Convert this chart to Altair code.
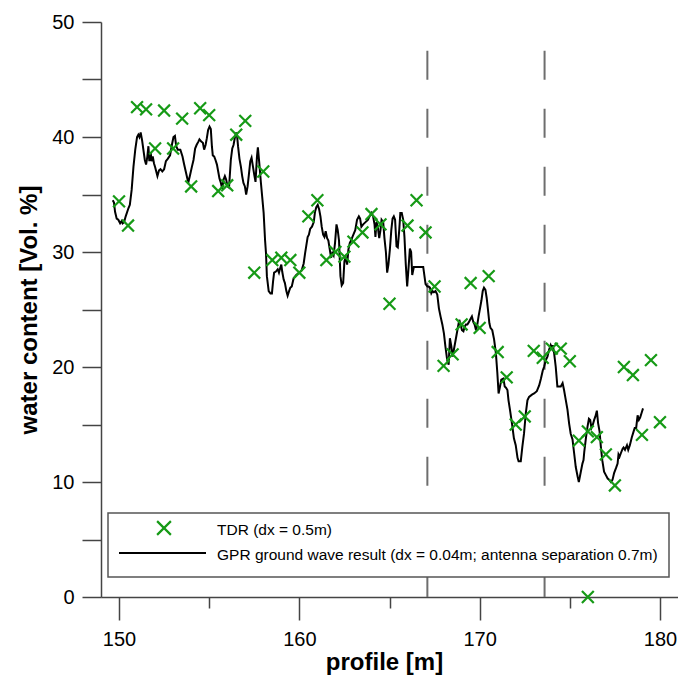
import altair as alt
import pandas as pd

# TDR probe readings along the profile (dx = 0.5 m)
tdr_x = [150.0, 150.5, 151.0, 151.5, 152.0, 152.5, 153.0, 153.5, 154.0, 154.5,
         155.0, 155.5, 156.0, 156.5, 157.0, 157.5, 158.0, 158.5, 159.0, 159.5,
         160.0, 160.5, 161.0, 161.5, 162.0, 162.5, 163.0, 163.5, 164.0, 164.5,
         165.0, 166.0, 166.5, 167.0, 167.5, 168.0, 168.5, 169.0, 169.5, 170.0,
         170.5, 171.0, 171.5, 172.0, 172.5, 173.0, 173.5, 174.0, 174.5, 175.0,
         175.5, 176.0, 176.0, 176.5, 177.0, 177.5, 178.0, 178.5, 179.0, 179.5,
         180.0]
tdr_y = [34.4, 32.3, 42.6, 42.4, 39.0, 42.3, 39.0, 41.6, 35.7, 42.5,
         41.9, 35.3, 35.8, 40.2, 41.4, 28.2, 37.0, 29.3, 29.5, 29.3,
         28.2, 33.1, 34.5, 29.3, 30.0, 29.6, 30.9, 31.7, 33.3, 32.4,
         25.5, 32.3, 34.5, 31.7, 27.0, 20.1, 21.1, 23.7, 27.3, 23.4,
         27.9, 21.3, 19.1, 15.0, 15.7, 21.4, 20.8, 21.6, 21.6, 20.5,
         13.6, 14.4, 0.0, 13.9, 12.4, 9.7, 20.0, 19.3, 14.1, 20.6,
         15.2]

# GPR ground wave water content (dx = 0.04 m)
gpr_x = [149.65, 149.72, 149.78, 149.87, 149.96, 150.06, 150.15, 150.20, 150.28, 150.37,
         150.52, 150.60, 150.70, 150.80, 150.90, 151.00, 151.07, 151.13, 151.20, 151.28,
         151.35, 151.43, 151.50, 151.57, 151.63, 151.68, 151.76, 151.80, 151.87, 151.94,
         152.00, 152.13, 152.22, 152.30, 152.40, 152.50, 152.60, 152.70, 152.83, 152.93,
         153.02, 153.10, 153.17, 153.26, 153.40, 153.52, 153.60, 153.70, 153.80, 153.85,
         153.94, 154.04, 154.13, 154.22, 154.30, 154.40, 154.46, 154.56, 154.65, 154.72,
         154.80, 154.87, 154.94, 155.02, 155.09, 155.15, 155.20, 155.28, 155.35, 155.43,
         155.50, 155.57, 155.65, 155.72, 155.80, 155.87, 155.94, 156.02, 156.10, 156.20,
         156.28, 156.35, 156.43, 156.50, 156.56, 156.60, 156.68, 156.76, 156.83, 156.90,
         156.98, 157.05, 157.13, 157.20, 157.28, 157.35, 157.43, 157.50, 157.57, 157.65,
         157.70, 157.78, 157.87, 157.94, 158.02, 158.10, 158.15, 158.20, 158.30, 158.40,
         158.48, 158.54, 158.60, 158.70, 158.80, 158.87, 158.94, 159.00, 159.05, 159.13,
         159.20, 159.28, 159.35, 159.43, 159.50, 159.58, 159.68, 159.83, 159.98, 160.13,
         160.24, 160.32, 160.39, 160.46, 160.53, 160.60, 160.70, 160.80, 160.87, 160.94,
         161.02, 161.10, 161.17, 161.24, 161.32, 161.39, 161.46, 161.54, 161.61, 161.68,
         161.76, 161.83, 161.90, 161.98, 162.06, 162.13, 162.20, 162.28, 162.35, 162.43,
         162.50, 162.57, 162.65, 162.72, 162.80, 162.87, 162.94, 163.02, 163.10, 163.20,
         163.30, 163.37, 163.44, 163.54, 163.67, 163.80, 163.90, 164.00, 164.09, 164.17,
         164.22, 164.28, 164.35, 164.43, 164.50, 164.56, 164.65, 164.72, 164.80, 164.87,
         164.94, 165.02, 165.10, 165.17, 165.24, 165.31, 165.39, 165.46, 165.54, 165.60,
         165.68, 165.76, 165.83, 165.90, 165.98, 166.06, 166.13, 166.20, 166.26, 166.35,
         166.54, 166.70, 166.87, 167.00, 167.10, 167.17, 167.24, 167.32, 167.39, 167.46,
         167.55, 167.65, 167.74, 167.83, 167.93, 168.02, 168.10, 168.20, 168.28, 168.35,
         168.43, 168.50, 168.57, 168.65, 168.72, 168.80, 168.87, 168.94, 169.02, 169.10,
         169.17, 169.24, 169.32, 169.40, 169.50, 169.57, 169.65, 169.72, 169.80, 169.87,
         169.94, 170.02, 170.10, 170.17, 170.24, 170.32, 170.39, 170.46, 170.54, 170.60,
         170.70, 170.80, 170.90, 170.98, 171.05, 171.13, 171.20, 171.32, 171.39, 171.46,
         171.54, 171.60, 171.68, 171.80, 171.90, 172.00, 172.10, 172.16, 172.28, 172.37,
         172.46, 172.56, 172.65, 172.74, 172.90, 173.02, 173.17, 173.30, 173.40, 173.50,
         173.57, 173.67, 173.76, 173.85, 173.94, 174.02, 174.06, 174.13, 174.22, 174.31,
         174.40, 174.50, 174.60, 174.68, 174.78, 174.87, 174.96, 175.05, 175.15, 175.24,
         175.33, 175.43, 175.50, 175.60, 175.70, 175.76, 175.80, 175.90, 175.98, 176.06,
         176.13, 176.20, 176.28, 176.35, 176.42, 176.50, 176.57, 176.65, 176.72, 176.80,
         176.90, 177.00, 177.10, 177.18, 177.28, 177.37, 177.46, 177.56, 177.65, 177.70,
         177.76, 177.83, 177.93, 177.98, 178.06, 178.17, 178.24, 178.33, 178.44, 178.54,
         178.60, 178.68, 178.76, 178.83, 178.90, 178.98, 179.06]
gpr_y = [34.5, 34.3, 33.5, 32.9, 32.8, 32.5, 32.7, 32.5, 32.6, 33.1,
         33.8, 34.1, 35.4, 37.4, 38.9, 40.0, 40.2, 40.0, 40.4, 39.7,
         38.9, 38.0, 37.6, 38.3, 39.2, 37.9, 38.6, 37.9, 38.3, 37.7,
         37.4, 36.6, 37.1, 37.2, 37.0, 37.2, 37.9, 38.1, 38.4, 39.3,
         40.0, 40.1, 39.2, 38.9, 38.9, 38.3, 37.7, 37.0, 36.3, 36.1,
         36.7, 37.4, 38.0, 39.0, 39.3, 39.6, 39.8, 39.6, 39.5, 38.9,
         39.3, 39.9, 40.6, 40.9, 40.7, 39.2, 38.4, 38.3, 38.0, 37.6,
         37.0, 36.4, 36.0, 35.5, 36.3, 36.6, 36.3, 35.7, 35.6, 38.0,
         39.0, 39.3, 40.0, 40.4, 39.9, 39.2, 38.1, 37.4, 36.6, 36.0,
         35.7, 35.0, 35.7, 36.7, 37.9, 38.2, 37.4, 36.7, 36.1, 38.3,
         39.1, 37.7, 36.0, 34.8, 33.4, 31.0, 29.9, 27.9, 26.6, 26.4,
         26.4, 27.4, 28.2, 28.3, 28.5, 28.2, 28.6, 28.9, 28.3, 27.6,
         27.3, 26.6, 26.2, 26.6, 26.9, 27.0, 27.7, 28.0, 28.2, 28.4,
         29.0, 29.9, 30.6, 31.3, 31.5, 32.0, 32.2, 32.6, 33.5, 33.9,
         34.1, 33.7, 33.1, 32.2, 31.5, 31.3, 31.8, 31.2, 31.0, 30.3,
         29.5, 29.9, 29.7, 30.8, 32.4, 31.9, 31.0, 27.9, 27.1, 27.3,
         29.2, 29.5, 28.9, 30.2, 30.8, 31.0, 31.3, 31.6, 31.9, 32.8,
         33.1, 32.9, 32.2, 32.4, 32.6, 32.8, 33.1, 33.4, 33.1, 32.4,
         31.3, 32.6, 32.2, 31.2, 31.9, 32.8, 32.6, 31.2, 30.0, 28.2,
         28.9, 30.2, 31.9, 32.9, 33.1, 32.8, 30.5, 30.4, 31.9, 33.4,
         33.4, 32.8, 31.3, 29.0, 27.0, 28.7, 30.3, 30.0, 28.0, 28.7,
         28.7, 28.7, 28.7, 27.2, 27.0, 27.0, 26.9, 26.4, 26.6, 26.5,
         26.6, 26.3, 25.1, 24.4, 23.7, 22.9, 21.8, 20.6, 20.2, 22.5,
         21.8, 20.9, 21.5, 22.2, 22.8, 23.5, 24.1, 23.7, 23.2, 23.1,
         23.5, 23.7, 23.7, 23.9, 24.2, 24.4, 23.9, 23.7, 23.2, 23.7,
         24.4, 25.1, 25.8, 26.6, 26.9, 26.7, 26.0, 25.0, 23.8, 23.4,
         23.2, 22.4, 21.2, 19.5, 17.7, 18.3, 18.9, 19.0, 18.3, 18.2,
         18.0, 17.1, 16.3, 15.0, 13.8, 13.2, 12.1, 11.8, 11.8, 13.1,
         14.2, 16.0, 17.1, 17.4, 17.6, 17.7, 17.9, 18.4, 19.0, 19.7,
         20.0, 20.6, 20.9, 21.5, 21.9, 21.6, 21.9, 21.2, 20.0, 18.3,
         18.3, 18.3, 18.6, 18.0, 17.1, 16.3, 15.1, 14.2, 13.7, 12.5,
         11.3, 10.5, 10.0, 10.8, 11.6, 11.9, 12.6, 13.9, 14.8, 15.5,
         15.4, 14.7, 15.0, 15.4, 15.7, 16.2, 15.1, 14.4, 13.1, 11.9,
         10.9, 10.6, 10.3, 10.2, 10.0, 10.2, 10.8, 11.2, 11.6, 12.4,
         12.2, 12.5, 12.9, 13.0, 12.8, 13.2, 12.8, 13.2, 13.9, 14.4,
         14.7, 14.7, 15.8, 15.4, 15.6, 16.0, 16.4]

# profile positions marked with dashed vertical lines
marker_x = [167.1, 173.6]
marker_top = 47.5

legend_tdr = "TDR (dx = 0.5m)"
legend_gpr = "GPR ground wave result (dx = 0.04m; antenna separation 0.7m)"

FONT = "Liberation Sans"
X_SHAPE = "M-1,-1L1,1M-1,1L1,-1"
GREEN = "#169a16"

tdr = pd.DataFrame({"profile": tdr_x, "wc": tdr_y})
gpr = pd.DataFrame({"profile": gpr_x, "wc": gpr_y, "i": list(range(len(gpr_x)))})
marks = pd.DataFrame({"profile": marker_x, "top": [marker_top] * len(marker_x),
                      "bottom": [0.0] * len(marker_x)})
one = pd.DataFrame({"k": [0]})

x_scale = alt.Scale(domain=[149, 181], nice=False, zero=False)
y_scale = alt.Scale(domain=[0, 50], nice=False)

x_axis = alt.Axis(
    title="profile [m]",
    values=[150, 155, 160, 165, 170, 175, 180],
    labelExpr="datum.value % 10 === 0 ? datum.label : ''",
    tickSize={"condition": {"test": "datum.value % 10 === 0", "value": 23}, "value": 11},
    labelPadding=9,
    labelFontSize=20, labelFont=FONT, labelColor="black",
    titleFontSize=24, titleFont=FONT, titleFontWeight="bold", titleColor="black",
    titlePadding=1, titleX=283,
    domainColor="#444", tickColor="#444", domainWidth=1.5, tickWidth=1.5,
    grid=False,
)
y_axis = alt.Axis(
    title="water content [Vol. %]",
    values=[0, 5, 10, 15, 20, 25, 30, 35, 40, 45, 50],
    labelExpr="datum.value % 10 === 0 ? datum.label : ''",
    tickSize=19, labelPadding=8,
    labelFontSize=20, labelFont=FONT, labelColor="black",
    titleFontSize=24, titleFont=FONT, titleFontWeight="bold", titleColor="black",
    titlePadding=10,
    domainColor="#444", tickColor="#444", domainWidth=1.5, tickWidth=1.5,
    grid=False,
)

dashes = alt.Chart(marks).mark_rule(color="#6e6e6e", strokeWidth=2, strokeDash=[29, 29]).encode(
    x=alt.X("profile:Q", scale=x_scale, axis=x_axis),
    y=alt.Y("top:Q", scale=y_scale, axis=y_axis),
    y2="bottom:Q",
)

# legend box and its two entries
box = alt.Chart(one).mark_rect(
    fill="white", stroke="#555", strokeWidth=1.5
).encode(x=alt.value(7), x2=alt.value(568), y=alt.value(491), y2=alt.value(555))

leg_sym = alt.Chart(one).mark_point(
    shape=X_SHAPE, size=190, strokeWidth=2.2, color=GREEN, filled=False, opacity=1
).encode(x=alt.value(63), y=alt.value(506))

leg_line = alt.Chart(one).mark_rule(color="black", strokeWidth=2).encode(
    x=alt.value(18), x2=alt.value(105), y=alt.value(531)
)

leg_text1 = alt.Chart(one).mark_text(
    align="left", baseline="alphabetic", font=FONT, fontSize=15.5, color="black",
    text=legend_tdr,
).encode(x=alt.value(116), y=alt.value(513))

leg_text2 = alt.Chart(one).mark_text(
    align="left", baseline="alphabetic", font=FONT, fontSize=15.5, color="black",
    text=legend_gpr,
).encode(x=alt.value(116), y=alt.value(537.5))

line = alt.Chart(gpr).mark_line(color="black", strokeWidth=2).encode(
    x=alt.X("profile:Q", scale=x_scale),
    y=alt.Y("wc:Q", scale=y_scale),
    order="i:Q",
)

points = alt.Chart(tdr).mark_point(
    shape=X_SHAPE, size=140, strokeWidth=2.2, color=GREEN, filled=False, opacity=1
).encode(
    x=alt.X("profile:Q", scale=x_scale),
    y=alt.Y("wc:Q", scale=y_scale),
)

chart = alt.layer(dashes, box, leg_sym, leg_line, leg_text1, leg_text2, line, points).properties(
    width=577, height=575,
    autosize=alt.AutoSizeParams(type="none"),
    padding={"left": 101, "top": 22, "right": 0, "bottom": 78},
    background="white",
).configure_view(stroke=None)

chart.save("out.html", embed_options={"renderer": "svg", "actions": False})
